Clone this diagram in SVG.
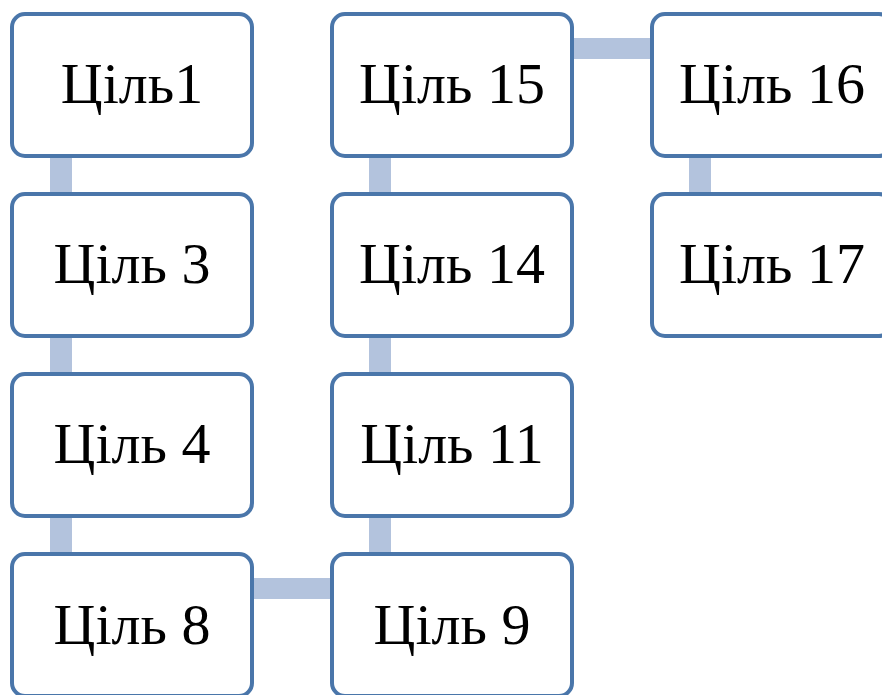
<svg xmlns="http://www.w3.org/2000/svg" width="882" height="695" viewBox="0 0 882 695">
<style>
.box{fill:#ffffff;stroke:#4A76AA;stroke-width:4}
.lbl{font-family:"Liberation Serif","DejaVu Serif",serif;font-size:58px;fill:#000000;text-anchor:middle}
.con{fill:#B3C3DD}
</style>
<rect width="882" height="695" fill="#ffffff"/>
<g id="connectors">
<rect class="con" x="50" y="156" width="22" height="38"/>
<rect class="con" x="50" y="336" width="22" height="38"/>
<rect class="con" x="50" y="516" width="22" height="38"/>
<rect class="con" x="252" y="578" width="80" height="21"/>
<rect class="con" x="369" y="516" width="22" height="38"/>
<rect class="con" x="369" y="336" width="22" height="38"/>
<rect class="con" x="369" y="156" width="22" height="38"/>
<rect class="con" x="572" y="38" width="80" height="21"/>
<rect class="con" x="689" y="156" width="22" height="38"/>
</g>
<g id="n1"><rect class="box" x="12" y="14" width="240" height="142" rx="13"/><text class="lbl" x="132" y="103">Ціль1</text></g>
<g id="n3"><rect class="box" x="12" y="194" width="240" height="142" rx="13"/><text class="lbl" x="132" y="283">Ціль 3</text></g>
<g id="n4"><rect class="box" x="12" y="374" width="240" height="142" rx="13"/><text class="lbl" x="132" y="463">Ціль 4</text></g>
<g id="n8"><rect class="box" x="12" y="554" width="240" height="142" rx="13"/><text class="lbl" x="132" y="644">Ціль 8</text></g>
<g id="n15"><rect class="box" x="332" y="14" width="240" height="142" rx="13"/><text class="lbl" x="452" y="103">Ціль 15</text></g>
<g id="n14"><rect class="box" x="332" y="194" width="240" height="142" rx="13"/><text class="lbl" x="452" y="283">Ціль 14</text></g>
<g id="n11"><rect class="box" x="332" y="374" width="240" height="142" rx="13"/><text class="lbl" x="452" y="463">Ціль 11</text></g>
<g id="n9"><rect class="box" x="332" y="554" width="240" height="142" rx="13"/><text class="lbl" x="452" y="644">Ціль 9</text></g>
<g id="n16"><rect class="box" x="652" y="14" width="240" height="142" rx="13"/><text class="lbl" x="772" y="103">Ціль 16</text></g>
<g id="n17"><rect class="box" x="652" y="194" width="240" height="142" rx="13"/><text class="lbl" x="772" y="283">Ціль 17</text></g>
</svg>
